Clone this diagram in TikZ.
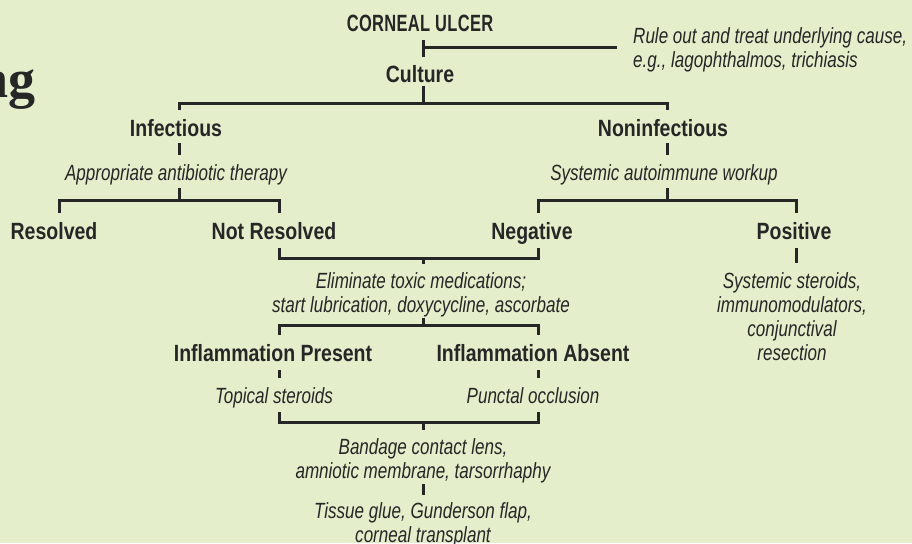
\documentclass[tikz,border=0pt]{standalone}
\usepackage{fontspec}
\setmainfont{Liberation Sans}[FakeStretch=0.83]
\newfontfamily\capsfont{Liberation Sans}[FakeStretch=0.70,LetterSpace=1.5]
\newfontfamily\itfont{Liberation Sans}[FakeStretch=0.775]
\newfontfamily\titlefont{Liberation Serif}
\definecolor{bg}{HTML}{E4EECB}
\definecolor{ink}{HTML}{262626}
\tikzset{
  head/.style={font=\fontsize{23.5}{24}\selectfont\bfseries, text=ink, inner sep=0pt, anchor=base},
  capshead/.style={font=\capsfont\fontsize{23.5}{24}\selectfont\bfseries, text=ink, inner sep=0pt, anchor=base},
  note/.style={font=\itfont\fontsize{22}{24}\selectfont\itshape, text=ink, inner sep=0pt, anchor=base, align=center},
  link/.style={draw=ink, line width=3pt, line cap=butt, line join=miter}
}
\begin{document}
\begin{tikzpicture}[x=1pt,y=-1pt]
\useasboundingbox (0,0) rectangle (912,543);
\fill[bg] (0,0) rectangle (912,543);
% partial title
\node[font=\titlefont\fontsize{54}{54}\selectfont\bfseries, text=ink, inner sep=0pt, anchor=base east] (title) at (36,97) {ng};
% nodes (multi-line nodes are placed at the baseline of their last line)
\node[capshead] (ulcer) at (420,32) {CORNEAL ULCER};
\node[note, anchor=base west, align=left] (ruleout) at (633,67) {Rule out and treat underlying cause,\\e.g., lagophthalmos, trichiasis};
\node[head] (culture) at (420,82) {Culture};
\node[head] (inf) at (176,136) {Infectious};
\node[head] (noninf) at (663,136) {Noninfectious};
\node[note] (abx) at (176,180) {Appropriate antibiotic therapy};
\node[note] (auto) at (664,180) {Systemic autoimmune workup};
\node[head] (res) at (54,239) {Resolved};
\node[head] (notres) at (274,239) {Not Resolved};
\node[head] (neg) at (532,239) {Negative};
\node[head] (pos) at (794,239) {Positive};
\node[note] (elim) at (421,312) {Eliminate toxic medications;\\start lubrication, doxycycline, ascorbate};
\node[note] (sys) at (792,360) {Systemic steroids,\\immunomodulators,\\conjunctival\\resection};
\node[head] (infp) at (273,361) {Inflammation Present};
\node[head] (infa) at (533,361) {Inflammation Absent};
\node[note] (top) at (274,403) {Topical steroids};
\node[note] (punc) at (533,403) {Punctal occlusion};
\node[note] (band) at (423,478) {Bandage contact lens,\\amniotic membrane, tarsorrhaphy};
\node[note] (glue) at (423,542) {Tissue glue, Gunderson flap,\\corneal transplant};
% junction coordinates
\coordinate (j1) at (423,48);
\coordinate (j1e) at (617,48);
\coordinate (j2) at (423,103);
\coordinate (j3) at (179,200);
\coordinate (j4) at (667,200);
\coordinate (j5) at (423,258);
\coordinate (j6) at (423,325);
\coordinate (j7) at (423,422);
% connectors
\draw[link] (423,40) -- (423,57);
\draw[link] (j1) -- (j1e);
\draw[link] (423,86) -- (j2);
\draw[link] (179,110) -- (179,103) -- (667,103) -- (667,110);
\draw[link] (179,143) -- (179,155);
\draw[link] (667,143) -- (667,155);
\draw[link] (179,188) -- (j3);
\draw[link] (59,213) -- (59,200) -- (279,200) -- (279,213);
\draw[link] (667,188) -- (j4);
\draw[link] (538,213) -- (538,200) -- (796,200) -- (796,213);
\draw[link] (279,248) -- (279,258) -- (538,258) -- (538,248);
\draw[link] (j5) -- (423,264);
\draw[link] (796,248) -- (796,263);
\draw[link] (423,318) -- (j6);
\draw[link] (279,335) -- (279,325) -- (538,325) -- (538,335);
\draw[link] (279,370) -- (279,378);
\draw[link] (538,370) -- (538,378);
\draw[link] (279,412) -- (279,422) -- (538,422) -- (538,412);
\draw[link] (j7) -- (423,430);
\draw[link] (423,484) -- (423,495);
\end{tikzpicture}
\end{document}
